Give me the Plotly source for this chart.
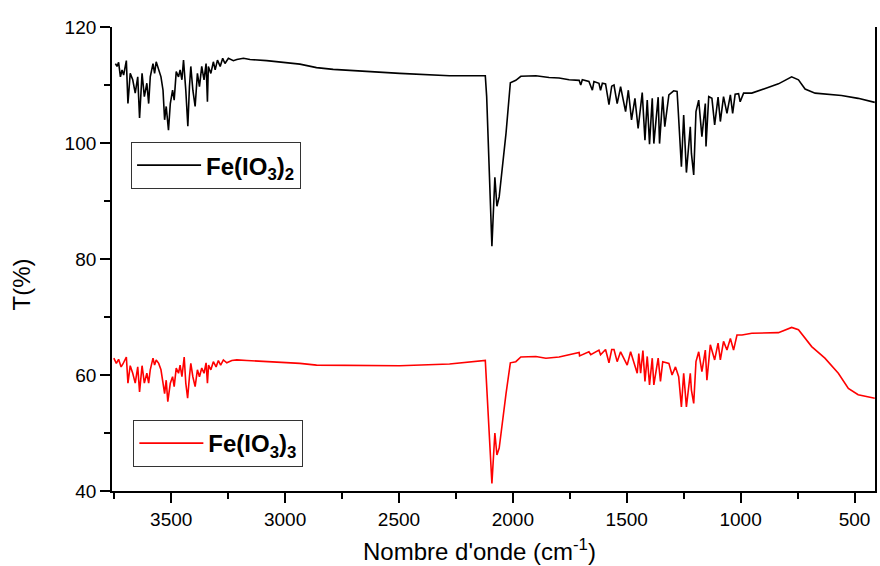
import plotly.graph_objects as go

# Fe(IO3)2 spectrum (black)
wn_fe2 = [3745, 3738, 3731, 3723, 3716, 3709, 3697, 3690, 3680, 3669, 3658, 3647, 3639, 3628,
          3618, 3607, 3599, 3592, 3580, 3573, 3566, 3555, 3545, 3536, 3529, 3522, 3512, 3504,
          3494, 3487, 3478, 3468, 3461, 3453, 3446, 3436, 3427, 3420, 3414, 3405, 3395, 3385,
          3376, 3366, 3356, 3347, 3341, 3337, 3326, 3315, 3307, 3297, 3285, 3274, 3264, 3249,
          3227, 3212, 3183, 3154, 3081, 2935, 2862, 2789, 2643, 2497, 2278, 2121, 2115, 2092,
          2079, 2070, 2060, 2030, 2011, 1987, 1965, 1899, 1841, 1797, 1753, 1709, 1702, 1695,
          1666, 1651, 1644, 1622, 1615, 1607, 1593, 1578, 1566, 1556, 1542, 1527, 1505, 1493,
          1479, 1464, 1450, 1432, 1420, 1410, 1400, 1388, 1381, 1362, 1356, 1342, 1333, 1315,
          1294, 1279, 1275, 1260, 1250, 1238, 1221, 1216, 1206, 1196, 1184, 1170, 1155, 1152,
          1140, 1126, 1114, 1099, 1089, 1075, 1060, 1045, 1035, 1024, 1009, 1002, 987, 951,
          892, 834, 776, 746, 717, 673, 557, 484, 411]
t_fe2 = [113.7, 113.2, 113.9, 111.4, 112.6, 111.7, 114.2, 106.8, 112.0, 110.9, 108.6, 111.4, 104.3, 112.0,
         108.0, 110.3, 106.8, 111.4, 113.7, 112.0, 114.0, 112.6, 111.4, 109.1, 104.0, 106.3, 102.2, 106.8,
         109.1, 107.4, 112.3, 111.4, 112.6, 110.9, 114.3, 109.1, 102.9, 109.7, 113.2, 109.1, 106.3, 112.0,
         109.7, 113.2, 110.9, 113.7, 107.1, 113.2, 112.0, 114.0, 112.6, 114.3, 113.2, 114.6, 113.7, 114.6,
         114.2, 114.4, 114.6, 114.4, 114.2, 113.6, 113.0, 112.7, 112.3, 112.0, 111.6, 111.6, 108.0, 82.2,
         94.1, 89.1, 90.7, 101.7, 110.4, 110.8, 111.5, 111.6, 111.3, 111.2, 110.9, 110.8, 110.0, 110.9,
         110.6, 109.1, 110.6, 110.3, 109.1, 110.3, 110.2, 106.6, 109.8, 110.0, 106.8, 109.7, 105.4, 109.1,
         104.0, 107.7, 102.5, 108.7, 100.5, 107.4, 99.8, 107.7, 99.9, 107.9, 99.9, 108.0, 102.8, 108.3,
         109.0, 108.9, 106.3, 95.9, 104.8, 94.9, 102.8, 98.2, 94.5, 105.4, 107.4, 101.1, 106.8, 99.4,
         108.0, 107.7, 103.1, 107.9, 103.7, 108.0, 105.1, 108.3, 105.1, 108.4, 108.5, 107.1, 108.6, 108.6,
         109.4, 110.2, 111.4, 110.9, 109.3, 108.6, 108.2, 107.7, 107.0]

# Fe(IO3)3 spectrum (red)
wn_fe3 = [3752, 3741, 3731, 3720, 3712, 3697, 3690, 3680, 3669, 3658, 3647, 3639, 3628, 3618,
          3607, 3599, 3592, 3580, 3573, 3566, 3555, 3545, 3536, 3529, 3522, 3515, 3504, 3494,
          3487, 3478, 3468, 3461, 3453, 3443, 3436, 3428, 3420, 3414, 3405, 3395, 3385, 3376,
          3366, 3356, 3347, 3341, 3336, 3326, 3315, 3303, 3293, 3283, 3271, 3256, 3234, 3212,
          3168, 3081, 2935, 2862, 2789, 2643, 2497, 2278, 2121, 2092, 2079, 2070, 2060, 2030,
          2011, 1987, 1965, 1899, 1855, 1797, 1753, 1709, 1707, 1666, 1658, 1622, 1615, 1593,
          1578, 1566, 1556, 1542, 1527, 1498, 1483, 1454, 1447, 1439, 1429, 1420, 1410, 1400,
          1388, 1381, 1362, 1352, 1342, 1327, 1315, 1301, 1286, 1272, 1260, 1250, 1238, 1221,
          1216, 1206, 1196, 1184, 1170, 1155, 1148, 1133, 1114, 1099, 1089, 1075, 1060, 1045,
          1031, 1016, 994, 951, 892, 834, 776, 746, 688, 630, 571, 527, 484, 411]
t_fe3 = [62.9, 62.0, 62.7, 61.4, 61.9, 63.1, 58.6, 61.6, 60.3, 58.6, 61.4, 57.1, 61.6, 58.6,
         60.3, 58.6, 60.9, 62.9, 61.7, 62.6, 62.0, 60.9, 58.6, 56.8, 59.1, 55.4, 58.6, 59.7,
         58.0, 61.2, 60.3, 61.7, 59.7, 63.1, 58.6, 56.0, 59.7, 62.0, 59.7, 58.0, 60.9, 59.7,
         61.2, 60.3, 62.1, 58.6, 61.7, 60.9, 62.3, 61.4, 62.5, 61.7, 62.6, 62.1, 62.5, 62.6,
         62.5, 62.3, 62.0, 61.7, 61.7, 61.7, 61.6, 61.9, 62.5, 41.3, 50.0, 46.2, 47.4, 56.8,
         62.1, 62.3, 63.1, 63.2, 62.9, 63.1, 63.5, 63.9, 63.3, 64.0, 63.5, 64.3, 63.5, 64.4,
         62.1, 64.4, 64.4, 62.3, 64.0, 61.7, 64.0, 60.3, 63.7, 60.3, 64.2, 58.9, 63.2, 58.3,
         62.9, 58.3, 62.9, 58.9, 62.3, 62.1, 62.0, 60.0, 61.4, 59.7, 54.5, 60.3, 54.5, 60.3,
         57.4, 55.1, 62.3, 64.0, 60.6, 64.3, 59.1, 65.2, 62.6, 65.5, 62.6, 65.8, 64.3, 66.3,
         64.3, 66.9, 66.9, 67.2, 67.3, 67.3, 68.2, 67.8, 64.9, 62.9, 60.3, 57.7, 56.6, 56.0]

name_fe2 = "<b>Fe(IO<sub>3</sub>)<sub>2</sub></b>"
name_fe3 = "<b>Fe(IO<sub>3</sub>)<sub>3</sub></b>"
x_title = "Nombre d'onde (cm<sup>-1</sup>)"
y_title = "T(%)"

FONT = "Liberation Sans, Arial, sans-serif"

fig = go.Figure()
fig.add_trace(go.Scatter(x=wn_fe2, y=t_fe2, mode="lines", name=name_fe2,
                         line=dict(color="black", width=1.6), legend="legend"))
fig.add_trace(go.Scatter(x=wn_fe3, y=t_fe3, mode="lines", name=name_fe3,
                         line=dict(color="#ff0000", width=1.6), legend="legend2"))

axis_common = dict(
    showgrid=False, zeroline=False, showline=True, linecolor="black", linewidth=1.8,
    ticks="outside", ticklen=10, tickwidth=1.8, tickcolor="black",
    tickfont=dict(family=FONT, size=19, color="black"),
)

fig.update_xaxes(range=[3760, 410], dtick=500, tick0=500,
                 minor=dict(dtick=250, tick0=250, ticks="outside", ticklen=6,
                            tickwidth=1.8, tickcolor="black"),
                 mirror=False, **axis_common)
fig.update_yaxes(range=[40, 120], dtick=20, tick0=40,
                 minor=dict(dtick=10, tick0=40, ticks="outside", ticklen=6,
                            tickwidth=1.8, tickcolor="black"),
                 mirror=True, **axis_common)

legend_common = dict(
    xanchor="left", yanchor="top", bgcolor="white", bordercolor="#333333",
    borderwidth=1, itemwidth=64,
    font=dict(family=FONT, size=24, color="black"),
)

fig.update_layout(
    width=880, height=566,
    margin=dict(l=112, r=3, t=27, b=75),
    plot_bgcolor="white", paper_bgcolor="white",
    showlegend=True,
    legend=dict(x=0.025, y=0.752, **legend_common),
    legend2=dict(x=0.028, y=0.153, **legend_common),
    annotations=[
        dict(text=x_title, xref="paper", yref="paper", x=0.481, y=-0.127,
             xanchor="center", yanchor="middle", showarrow=False,
             font=dict(family=FONT, size=24, color="black")),
        dict(text=y_title, xref="paper", yref="paper", x=-0.118, y=0.445,
             xanchor="center", yanchor="middle", showarrow=False, textangle=-90,
             font=dict(family=FONT, size=24, color="black")),
    ],
)

fig.write_html("out.html")
